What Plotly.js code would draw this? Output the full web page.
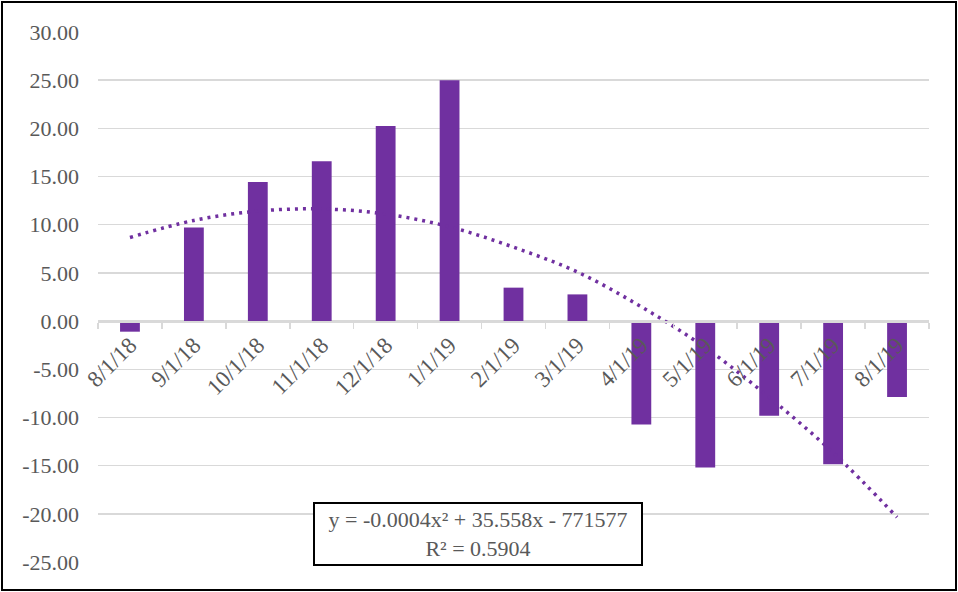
<!DOCTYPE html>
<html>
<head>
<meta charset="utf-8">
<script src="https://cdn.plot.ly/plotly-3.0.1.min.js"></script>
<style>
html, body { margin: 0; padding: 0; background: #ffffff; }
#chart { width: 958px; height: 592px; }
</style>
</head>
<body>
<div id="chart"></div>
<script>
// ---- data ----
var categories = ['8/1/18', '9/1/18', '10/1/18', '11/1/18', '12/1/18', '1/1/19', '2/1/19',
                  '3/1/19', '4/1/19', '5/1/19', '6/1/19', '7/1/19', '8/1/19'];
var dates = ['2018-08-01', '2018-09-01', '2018-10-01', '2018-11-01', '2018-12-01', '2019-01-01',
             '2019-02-01', '2019-03-01', '2019-04-01', '2019-05-01', '2019-06-01', '2019-07-01', '2019-08-01'];
var values = [-1.1, 9.7, 14.43, 16.6, 20.25, 25.0, 3.47, 2.77, -10.73, -15.2, -9.82, -14.85, -7.89];
var yTickVals = [-25, -20, -15, -10, -5, 0, 5, 10, 15, 20, 25, 30];
var yTickText = ['-25.00', '-20.00', '-15.00', '-10.00', '-5.00', '0.00', '5.00', '10.00', '15.00', '20.00', '25.00', '30.00'];
var equationText = 'y = -0.0004x\u00b2 + 35.558x - 771577<br>R\u00b2 = 0.5904';

// ---- polynomial (order 2) trendline: least-squares fit of the bar values over date ----
function quadFit(xs, ys) {
  var n = xs.length, S = [0, 0, 0, 0, 0], T = [0, 0, 0];
  for (var i = 0; i < n; i++) {
    var p = 1;
    for (var k = 0; k < 5; k++) { S[k] += p; if (k < 3) T[k] += p * ys[i]; p *= xs[i]; }
  }
  var M = [[S[0], S[1], S[2], T[0]], [S[1], S[2], S[3], T[1]], [S[2], S[3], S[4], T[2]]];
  for (var c = 0; c < 3; c++) {
    for (var r = c + 1; r < 3; r++) {
      var f = M[r][c] / M[c][c];
      for (var j = c; j < 4; j++) M[r][j] -= f * M[c][j];
    }
  }
  var coef = [0, 0, 0];
  for (var r2 = 2; r2 >= 0; r2--) {
    var s = M[r2][3];
    for (var j2 = r2 + 1; j2 < 3; j2++) s -= M[r2][j2] * coef[j2];
    coef[r2] = s / M[r2][r2];
  }
  return coef;
}
var t0 = new Date(dates[0]).getTime();
var days = dates.map(function (d) { return (new Date(d).getTime() - t0) / 86400000; });
var cf = quadFit(days, values);
var trend = days.map(function (x) { return cf[0] + cf[1] * x + cf[2] * x * x; });

var purple = '#7030A0';
var grey = '#595959';
var gridGrey = '#d9d9d9';
var font = 'Liberation Serif, Times New Roman, serif';

var traces = [
  {
    type: 'bar', x: categories, y: values,
    marker: { color: purple, line: { width: 0 } },
    hoverinfo: 'x+y', showlegend: false
  },
  {
    type: 'scatter', mode: 'lines', x: categories, y: trend,
    line: { color: purple, width: 3.5, dash: '3px,5px', shape: 'spline' },
    hoverinfo: 'skip', showlegend: false
  }
];

var L = 98, R = 29, T = 32, B = 30, W = 958, H = 592;
var pw = W - L - R, ph = H - T - B;

var layout = {
  width: W, height: H,
  margin: { l: L, r: R, t: T, b: B, pad: 0 },
  paper_bgcolor: '#ffffff', plot_bgcolor: '#ffffff',
  bargap: 0.69,
  showlegend: false,
  xaxis: {
    type: 'category',
    anchor: 'free', position: 25 / 55,
    tickson: 'boundaries', ticks: 'outside', ticklen: 6, tickwidth: 1.5, tickcolor: gridGrey,
    showline: true, linecolor: gridGrey, linewidth: 1.5,
    showgrid: false, zeroline: false,
    tickangle: -45,
    tickfont: { family: font, size: 23, color: grey },
    automargin: false
  },
  yaxis: {
    range: [-25, 30],
    tickvals: yTickVals, ticktext: yTickText,
    showgrid: true, gridcolor: gridGrey, gridwidth: 1.5,
    zeroline: false, showline: false, ticks: '',
    ticklabelstandoff: 18,
    tickfont: { family: font, size: 22, color: grey },
    automargin: false
  },
  annotations: [{
    xref: 'paper', yref: 'paper',
    x: (477.7 - L) / pw, y: (H - B - 534.2) / ph,
    xanchor: 'center', yanchor: 'middle',
    text: equationText, showarrow: false, align: 'center',
    font: { family: font, size: 22, color: grey },
    bgcolor: '#ffffff', bordercolor: '#000000', borderwidth: 2, borderpad: 1,
    width: 324, height: 58
  }],
  shapes: [{
    type: 'rect', xref: 'paper', yref: 'paper',
    x0: (2 - L) / pw, x1: (956 - L) / pw,
    y0: (H - B - 590) / ph, y1: (H - B - 2) / ph,
    line: { color: '#000000', width: 2 }, fillcolor: 'rgba(0,0,0,0)', layer: 'above'
  }]
};

Plotly.newPlot('chart', traces, layout, { staticPlot: true, displayModeBar: false });
</script>
</body>
</html>
